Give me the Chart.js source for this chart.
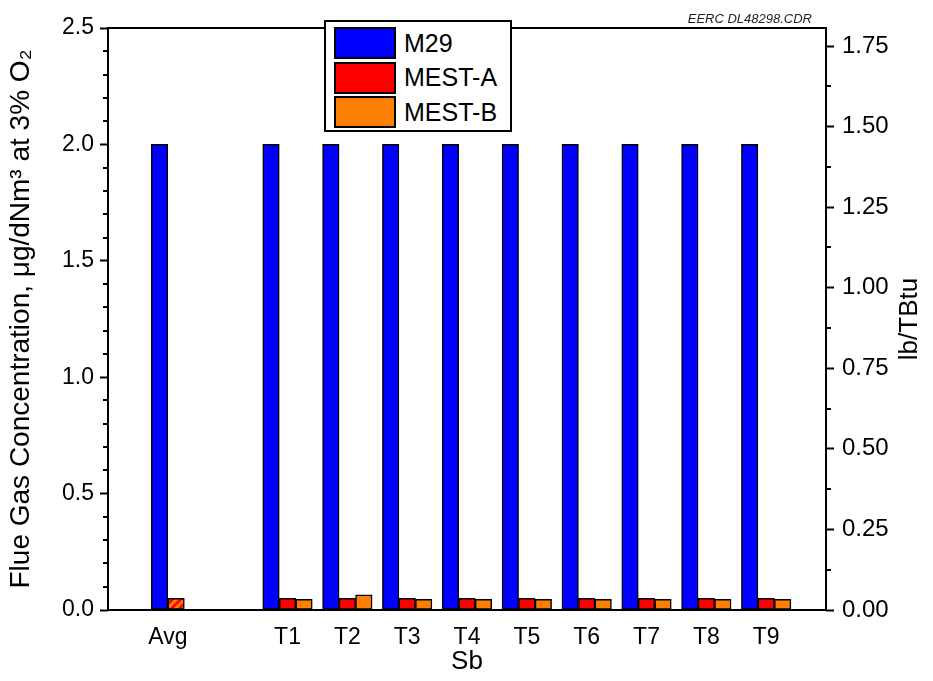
<!DOCTYPE html>
<html>
<head>
<meta charset="utf-8">
<script src="https://cdn.jsdelivr.net/npm/chart.js@4"></script>
<style>
  body { margin: 0; background: #fff; }
  #wrap { position: relative; width: 933px; height: 681px; }
  #legend {
    position: absolute; left: 324px; top: 20px; width: 188px; height: 112px;
    border: 2px solid #000; background: #fff; font-family: "Liberation Sans", Arial, sans-serif;
    font-size: 25px; padding: 4px 0 0 8px; box-sizing: border-box;
  }
  .item { display: flex; align-items: center; height: 34.5px; }
  .sw { width: 58px; height: 28px; border: 2px solid #000; margin-right: 8px; }
</style>
</head>
<body>
<div id="wrap">
  <canvas id="chart" width="933" height="681"></canvas>
  <div id="legend"></div>
</div>
<script>
// categories (blank slots give the spacing around Avg)
const categories = ['', 'Avg', '', 'T1', 'T2', 'T3', 'T4', 'T5', 'T6', 'T7', 'T8', 'T9', ''];
const m29 =   [null, 2.0,  null, 2.0,  2.0,   2.0,  2.0,  2.0,  2.0,  2.0,  2.0,  2.0,  null];
const mestA = [null, 0.05, null, 0.05, 0.05,  0.05, 0.05, 0.05, 0.05, 0.05, 0.05, 0.05, null];
const mestB = [null, null, null, 0.046, 0.065, 0.046, 0.046, 0.046, 0.046, 0.046, 0.046, 0.046, null];
const leftTicks = [0, 0.5, 1.0, 1.5, 2.0, 2.5];
const rightTicks = [0, 0.25, 0.5, 0.75, 1.0, 1.25, 1.5, 1.75];

const FONT = '"Liberation Sans", Arial, sans-serif';
const BLUE = '#0000ff', RED = '#ff0000', ORANGE = '#ff8000';

// hatched fill used for the Avg MEST bar
function hatch() {
  const c = document.createElement('canvas');
  c.width = 8; c.height = 8;
  const g = c.getContext('2d');
  g.fillStyle = RED; g.fillRect(0, 0, 8, 8);
  g.strokeStyle = ORANGE; g.lineWidth = 3;
  g.beginPath();
  g.moveTo(-2, 2); g.lineTo(2, -2);
  g.moveTo(0, 8); g.lineTo(8, 0);
  g.moveTo(6, 10); g.lineTo(10, 6);
  g.stroke();
  return g.createPattern(c, 'repeat');
}
const avgPattern = hatch();

const frame = {
  id: 'frame',
  afterDatasetsDraw(chart) {
    const { ctx, chartArea: a, scales } = chart;
    ctx.save();
    ctx.strokeStyle = '#000';
    ctx.lineWidth = 2;
    ctx.strokeRect(a.left, a.top, a.right - a.left, a.bottom - a.top);
    // minor ticks
    ctx.beginPath();
    for (let i = 1; i < 25; i++) {
      if (i % 5 === 0) continue;
      const p = Math.round(scales.y.getPixelForValue(i / 10)) ;
      ctx.moveTo(a.left - 5, p); ctx.lineTo(a.left, p);
    }
    for (let i = 1; i < 15; i += 2) {
      const p = Math.round(scales.y2.getPixelForValue(i * 0.125));
      ctx.moveTo(a.right, p); ctx.lineTo(a.right + 5, p);
    }
    ctx.stroke();
    // right axis title
    ctx.fillStyle = '#000';
    ctx.font = '26px ' + FONT;
    ctx.textAlign = 'center';
    ctx.textBaseline = 'middle';
    ctx.translate(910, (a.top + a.bottom) / 2);
    ctx.rotate(-Math.PI / 2);
    ctx.fillText('lb/TBtu', 0, 0);
    ctx.restore();
    // file note
    ctx.save();
    ctx.fillStyle = '#222';
    ctx.font = 'italic 13px ' + FONT;
    ctx.textAlign = 'right';
    ctx.textBaseline = 'alphabetic';
    ctx.fillText('EERC DL48298.CDR', 812, 23);
    ctx.restore();
  }
};

const datasets = [
  { label: 'M29', data: m29, backgroundColor: BLUE },
  { label: 'MEST-A', data: mestA,
    backgroundColor: c => (c.type === 'data' && c.dataIndex === 1) ? avgPattern : RED },
  { label: 'MEST-B', data: mestB, backgroundColor: ORANGE }
].map(d => Object.assign(d, {
  borderColor: '#000', borderWidth: 1.5, borderSkipped: false,
  barThickness: 16.5, skipNull: true
}));

new Chart(document.getElementById('chart'), {
  type: 'bar',
  data: { labels: categories, datasets },
  options: {
    responsive: false,
    animation: false,
    layout: { padding: { top: 28, left: 0, right: 0, bottom: 0 } },
    plugins: { legend: { display: false }, tooltip: { enabled: false } },
    scales: {
      x: {
        offset: false,
        grid: { display: false },
        border: { display: false },
        ticks: { color: '#000', font: { family: FONT, size: 23 }, padding: 6, maxRotation: 0, autoSkip: false },
        title: { display: true, text: 'Sb', color: '#000', font: { family: FONT, size: 26 }, padding: { top: 0 } },
        afterFit: s => { s.height = 71; }
      },
      y: {
        position: 'left',
        min: 0, max: 2.5,
        afterBuildTicks: s => { s.ticks = leftTicks.map(v => ({ value: v })); },
        grid: { drawOnChartArea: false, tickLength: 8, tickWidth: 2, tickColor: '#000' },
        border: { display: false },
        ticks: { color: '#000', font: { family: FONT, size: 23 }, padding: 6, callback: v => v.toFixed(1) },
        title: { display: true, text: 'Flue Gas Concentration, μg/dNm³ at 3% O₂', color: '#000',
                 font: { family: FONT, size: 28 }, padding: { top: 4, bottom: 0 } },
        afterFit: s => { s.width = 108; }
      },
      y2: {
        position: 'right',
        min: 0, max: 1.806,
        afterBuildTicks: s => { s.ticks = rightTicks.map(v => ({ value: v })); },
        grid: { drawOnChartArea: false, tickLength: 8, tickWidth: 2, tickColor: '#000' },
        border: { display: false },
        ticks: { color: '#000', font: { family: FONT, size: 24 }, padding: 8, callback: v => v.toFixed(2) },
        afterFit: s => { s.width = 107; }
      }
    }
  },
  plugins: [frame]
});

// legend box inside the plot
const lg = document.getElementById('legend');
[['M29', BLUE], ['MEST-A', RED], ['MEST-B', ORANGE]].forEach(([t, c]) => {
  const row = document.createElement('div');
  row.className = 'item';
  row.innerHTML = '<div class="sw" style="background:' + c + '"></div><span>' + t + '</span>';
  lg.appendChild(row);
});
</script>
</body>
</html>
